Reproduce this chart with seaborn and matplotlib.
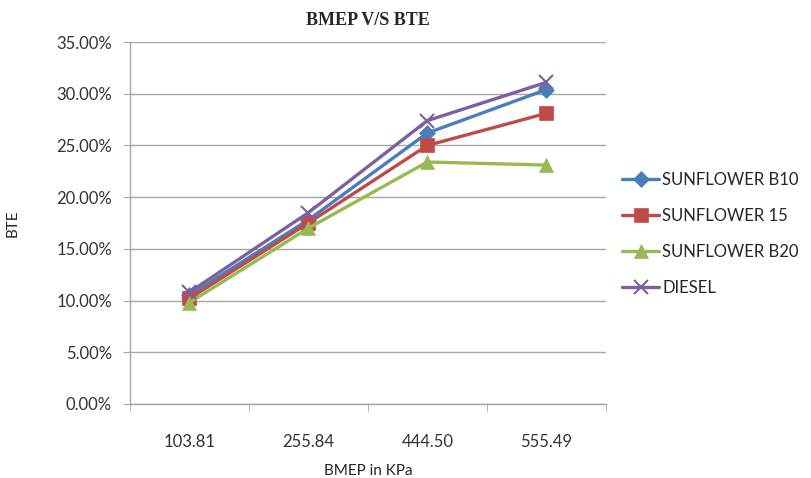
import matplotlib
matplotlib.use("Agg")
import matplotlib.pyplot as plt
import matplotlib.ticker as mticker
import pandas as pd
import seaborn as sns

bmep = ["103.81", "255.84", "444.50", "555.49"]
b10 = [0.105, 0.178, 0.262, 0.304]
b15 = [0.102, 0.175, 0.250, 0.281]
b20 = [0.098, 0.170, 0.234, 0.231]
diesel = [0.108, 0.185, 0.274, 0.311]

names = ["SUNFLOWER B10", "SUNFLOWER 15", "SUNFLOWER B20", "DIESEL"]
colors = ["#4A7EBB", "#BE4B48", "#98B954", "#7D60A0"]
markers = ["D", "s", "^", "x"]
sizes = [8, 10, 10, 10]

df = pd.DataFrame({
    "BMEP": bmep * 4,
    "BTE": b10 + b15 + b20 + diesel,
    "fuel": [n for n in names for _ in bmep],
})

sns.set_style("white")
plt.rcParams["font.family"] = ["Lato", "DejaVu Sans"]

fig = plt.figure(figsize=(8.12, 4.78), dpi=100)
ax = fig.add_axes([0.16, 0.155, 0.586, 0.757])

for name, c, m, s in zip(names, colors, markers, sizes):
    sub = df[df["fuel"] == name]
    sns.lineplot(data=sub, x="BMEP", y="BTE", ax=ax, color=c, marker=m,
                 markersize=s, markeredgecolor=c, markeredgewidth=1.5 if m == "x" else 0.5,
                 linewidth=2.4, label=name, sort=False)

ax.set_xlim(-0.5, 3.5)
ax.set_ylim(0, 0.35)
ax.yaxis.set_major_locator(mticker.MultipleLocator(0.05))
ax.yaxis.set_major_formatter(mticker.FuncFormatter(lambda v, p: f"{v*100:.2f}%"))
ax.grid(axis="y", color="#a6a6a6", linewidth=1.0)
ax.set_axisbelow(True)

ax.set_xticks(range(len(bmep)))
ax.set_xticklabels(bmep)
ax.xaxis.set_minor_locator(mticker.FixedLocator([-0.5, 0.5, 1.5, 2.5, 3.5]))
ax.tick_params(axis="x", which="major", length=0, pad=22, labelsize=12, colors="#333333")
ax.tick_params(axis="x", which="minor", length=5, color="#a6a6a6", bottom=True)
ax.tick_params(axis="y", length=5, color="#a6a6a6", left=True, labelsize=12,
               colors="#333333", pad=8)

for side in ["top", "right"]:
    ax.spines[side].set_visible(False)
for side in ["left", "bottom"]:
    ax.spines[side].set_color("#a6a6a6")
    ax.spines[side].set_linewidth(1.0)

ax.set_xlabel("BMEP in KPa", fontsize=11, labelpad=10)
ax.set_ylabel("BTE", fontsize=11, labelpad=26)
ax.set_title("BMEP V/S BTE", fontsize=13, fontweight="bold",
             fontfamily="Liberation Serif", pad=12)

handles, labels = ax.get_legend_handles_labels()
ax.legend_.remove()
fig.legend(handles, labels, loc="center left", bbox_to_anchor=(0.748, 0.51),
           frameon=False, fontsize=12, labelspacing=1.2, handlelength=2.2,
           handletextpad=0.2)

fig.savefig("out.png", dpi=100)
